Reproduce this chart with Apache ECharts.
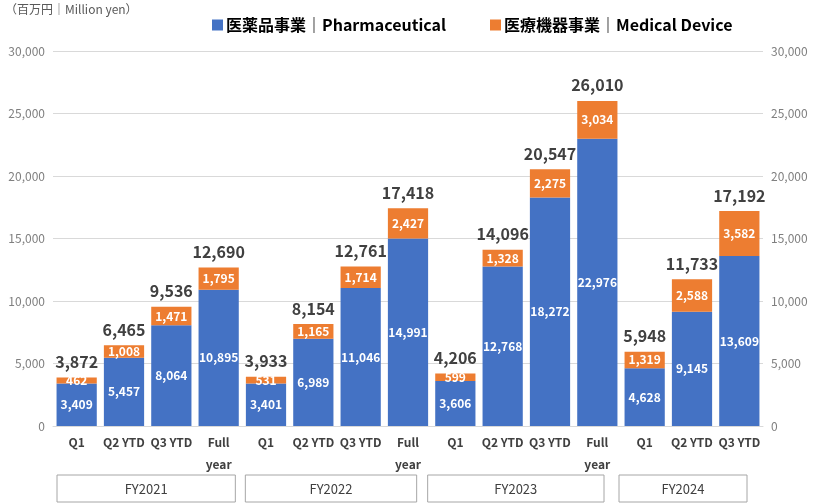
<!DOCTYPE html>
<html><head><meta charset="utf-8">
<script src="https://cdn.jsdelivr.net/npm/echarts@6/dist/echarts.min.js"></script>
<style>html,body{margin:0;padding:0;background:#fff}#c{width:818px;height:504px}</style>
</head><body><div id="c"></div>
<script>
var categories = ['Q1','Q2 YTD','Q3 YTD','Full\nyear','Q1','Q2 YTD','Q3 YTD','Full\nyear','Q1','Q2 YTD','Q3 YTD','Full\nyear','Q1','Q2 YTD','Q3 YTD'];
var pharma = [3409,5457,8064,10895,3401,6989,11046,14991,3606,12768,18272,22976,4628,9145,13609];
var medical = [462,1008,1471,1795,531,1165,1714,2427,599,1328,2275,3034,1319,2588,3582];
var totals = [3872,6465,9536,12690,3933,8154,12761,17418,4206,14096,20547,26010,5948,11733,17192];
var groups = ['FY2021','FY2022','FY2023','FY2024'];
var groupSpans = [[0,3],[4,7],[8,11],[12,14]];
var yTicks = {min:0,max:30000,interval:5000};

// layout: box insets (left, right) in px from the category band edges
var boxInsets = [[4,7],[3,15],[-4,17],[-2,16]];

var FONT = '"Noto Sans CJK JP","Noto Sans",sans-serif';
var chart = echarts.init(document.getElementById('c'));
function fmt(v){return v.toLocaleString('en-US');}
var axisLabelStyle = {color:'#7f7f7f',fontSize:12,fontFamily:FONT,formatter:function(v){return fmt(v);}};
var option = {
  animation:false,
  textStyle:{fontFamily:FONT},
  grid:{left:53,right:55,top:51,bottom:78},
  legend:{
    data:['医薬品事業｜Pharmaceutical','医療機器事業｜Medical Device'],
    top:12,left:207,itemWidth:11,itemHeight:11,itemGap:44,icon:'rect',
    textStyle:{fontSize:16,fontWeight:'bold',color:'#000',fontFamily:FONT,padding:[0,0,0,-2]}
  },
  xAxis:{type:'category',data:categories,
    axisLine:{lineStyle:{color:'#d9d9d9'}},axisTick:{show:false},
    axisLabel:{color:'#404040',fontSize:12,fontWeight:'bold',lineHeight:22,margin:5,interval:0,fontFamily:FONT}},
  yAxis:[
    {type:'value',min:yTicks.min,max:yTicks.max,interval:yTicks.interval,
     splitLine:{lineStyle:{color:'#d9d9d9'}},axisLabel:axisLabelStyle,axisLine:{show:false}},
    {type:'value',min:yTicks.min,max:yTicks.max,interval:yTicks.interval,position:'right',
     splitLine:{show:false},axisLabel:axisLabelStyle,axisLine:{show:false}}
  ],
  series:[
    {name:'医薬品事業｜Pharmaceutical',type:'bar',stack:'s',data:pharma,barCategoryGap:'15%',
     itemStyle:{color:'#4472C4'},
     label:{show:true,position:'inside',color:'#fff',fontWeight:'bold',fontSize:12,fontFamily:FONT,formatter:function(p){return fmt(p.value);}}},
    {name:'医療機器事業｜Medical Device',type:'bar',stack:'s',data:medical,
     itemStyle:{color:'#ED7D31'},
     label:{show:true,position:'inside',color:'#fff',fontWeight:'bold',fontSize:12,fontFamily:FONT,formatter:function(p){return fmt(p.value);}}},
    {name:'total',type:'line',data:totals,symbol:'circle',symbolSize:1,showSymbol:true,
     itemStyle:{color:'rgba(0,0,0,0)'},lineStyle:{width:0,opacity:0},silent:true,z:10,
     label:{show:true,position:'top',distance:7,color:'#404040',fontWeight:'bold',fontSize:16,fontFamily:FONT,formatter:function(p){return fmt(p.value);}}}
  ]
};
chart.setOption(option);
var g = [{type:'text',left:5,top:3,style:{text:'（百万円｜Million yen）',fill:'#595959',font:'12px '+FONT}}];
var x0 = chart.convertToPixel({xAxisIndex:0},0), x1 = chart.convertToPixel({xAxisIndex:0},1);
var band = x1 - x0;
groupSpans.forEach(function(s,i){
  var a = chart.convertToPixel({xAxisIndex:0},s[0]) - band/2 + boxInsets[i][0];
  var b = chart.convertToPixel({xAxisIndex:0},s[1]) + band/2 - boxInsets[i][1];
  g.push({type:'rect',shape:{x:a,y:475,width:b-a,height:27},style:{fill:'#fff',stroke:'#a6a6a6',lineWidth:1}});
  g.push({type:'text',x:(a+b)/2,y:489,style:{text:groups[i],fill:'#404040',font:'13px '+FONT,textAlign:'center',textVerticalAlign:'middle'}});
});
chart.setOption({graphic:g},{replaceMerge:['graphic']});
</script></body></html>
